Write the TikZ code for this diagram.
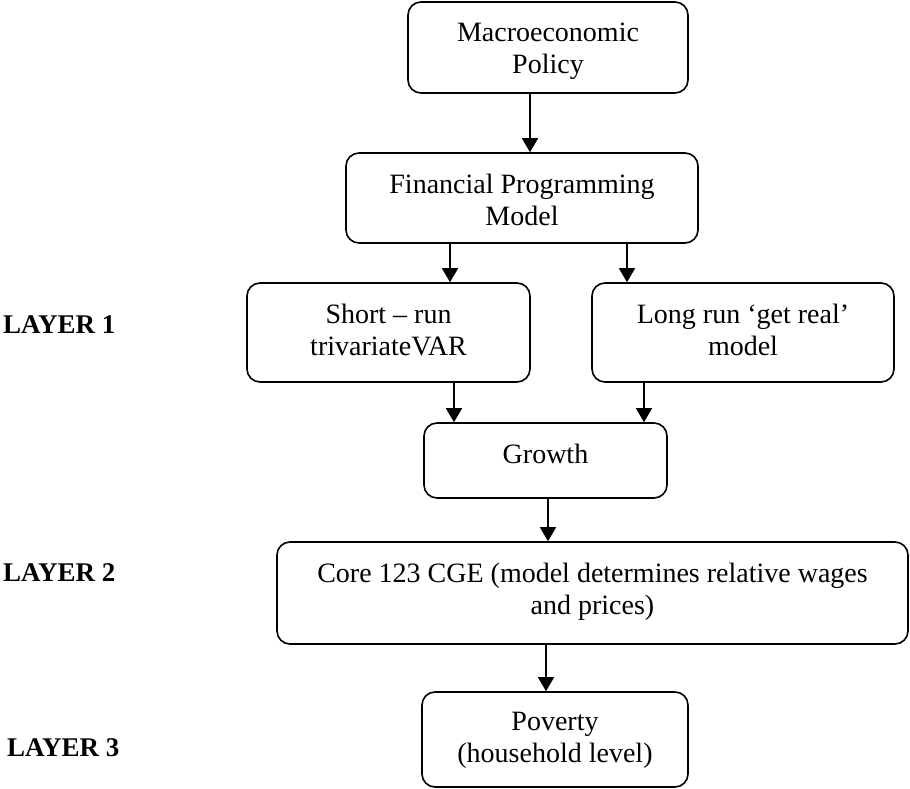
\documentclass[tikz,border=0pt]{standalone}
\usepackage{fontspec}
\setmainfont{Liberation Serif}
\usetikzlibrary{arrows.meta}
\begin{document}
\begin{tikzpicture}[x=1pt,y=1pt,
  box/.style={draw=black, line width=1.6pt, rounded corners=13pt, inner sep=0pt},
  txt/.style={anchor=north, inner sep=0pt, align=center, font=\fontsize{28}{32}\selectfont},
  arr/.style={line width=1.6pt, -{Triangle[width=16pt,length=14pt]}},
  layer/.style={anchor=west, inner sep=0pt, font=\fontsize{27}{30}\selectfont\bfseries}]
\useasboundingbox (0,0) rectangle (910,-789);
\node[box, minimum width=280pt, minimum height=91pt] (macro) at (548,-47.5) {};
\node[box, minimum width=352pt, minimum height=90pt] (fin) at (522,-198) {};
\node[box, minimum width=283pt, minimum height=99pt] (short) at (388.5,-332.5) {};
\node[box, minimum width=302pt, minimum height=99pt] (long) at (743,-332.5) {};
\node[box, minimum width=243pt, minimum height=75pt] (growth) at (545.5,-460.5) {};
\node[box, minimum width=631pt, minimum height=102pt] (core) at (592.5,-593) {};
\node[box, minimum width=266pt, minimum height=95pt] (pov) at (555,-739.5) {};
\node[txt] (macrot) at ([yshift=-21.5pt]macro.north) {Macroeconomic\\Policy};
\node[txt] (fint) at ([yshift=-22pt]fin.north) {Financial Programming\\Model};
\node[txt] (shortt) at ([yshift=-22pt]short.north) {Short – run\\trivariateVAR};
\node[txt] (longt) at ([yshift=-22pt]long.north) {Long run ‘get real’\\model};
\node[txt] (growtht) at ([yshift=-21.5pt]growth.north) {Growth};
\node[txt] (coret) at ([yshift=-22pt]core.north) {Core 123 CGE (model determines relative wages\\and prices)};
\node[txt] (povt) at ([yshift=-21pt]pov.north) {Poverty\\(household level)};
\node[layer] (l1) at (3,-325) {LAYER 1};
\node[layer] (l2) at (3,-573) {LAYER 2};
\node[layer] (l3) at (7,-748) {LAYER 3};
\coordinate (a1) at (530,0);
\coordinate (a2) at (450,0);
\coordinate (a3) at (627,0);
\coordinate (a4) at (454,0);
\coordinate (a5) at (644,0);
\coordinate (a6) at (548,0);
\coordinate (a7) at (546,0);
\draw[arr] (macro.south -| a1) -- (fin.north -| a1);
\draw[arr] (fin.south -| a2) -- (short.north -| a2);
\draw[arr] (fin.south -| a3) -- (long.north -| a3);
\draw[arr] (short.south -| a4) -- (growth.north -| a4);
\draw[arr] (long.south -| a5) -- (growth.north -| a5);
\draw[arr] (growth.south -| a6) -- (core.north -| a6);
\draw[arr] (core.south -| a7) -- (pov.north -| a7);
\end{tikzpicture}
\end{document}
